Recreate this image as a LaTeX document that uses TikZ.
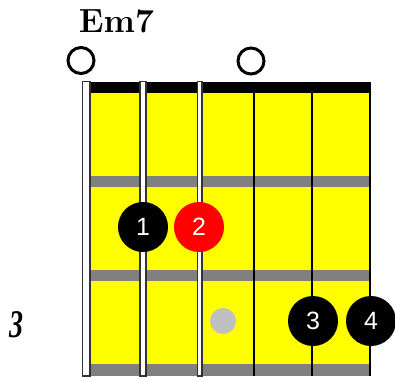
\documentclass[tikz,border=0pt]{standalone}
\usepackage{fontspec}
\newfontfamily\fingerfont{Liberation Sans}
\newfontfamily\fretfont{Liberation Serif}
\definecolor{fretyellow}{HTML}{FFFF00}
\definecolor{fretgray}{HTML}{808080}
\definecolor{stringedge}{HTML}{333333}
\definecolor{ghostgray}{HTML}{C0C0C0}
\tikzset{
  finger/.style={circle, fill=black, minimum size=50pt, inner sep=0pt, text=white,
    font=\fingerfont\fontsize{25}{25}\selectfont},
  openstring/.style={circle, draw=black, line width=3pt, minimum size=26pt, inner sep=0pt},
  ghost/.style={circle, fill=ghostgray, minimum size=26pt, inner sep=0pt},
  wound/.style={fill=white, draw=stringedge, line width=1.5pt},
  plainstring/.style={line width=2pt}
}
\begin{document}
\begin{tikzpicture}[x=1pt, y=-1pt]
  \useasboundingbox (0,0) rectangle (395,381);
  \node [anchor=base, font=\fontsize{33.5}{33.5}\selectfont\bfseries] (title) at (116.5,32) {Em7};
  \node [anchor=base, font=\fretfont\fontsize{28}{28}\selectfont\bfseries\itshape] (fretno) at (16.5,337) {\scalebox{1}[1.4]{3}};
  \node [openstring] (o1) at (81,60.5) {};
  \node [openstring] (o2) at (251,61) {};
  \fill [fretyellow] (90,93) rectangle (370,365);
  \fill [fretgray] (90,176) rectangle (370,187);
  \fill [fretgray] (90,270) rectangle (370,281);
  \fill [fretgray] (90,364) rectangle (370,376);
  \fill [black] (90,82) rectangle (371,93);
  \draw [wound] (82.5,81.5) rectangle (90,376);
  \draw [wound] (140,81.5) rectangle (146,376);
  \draw [wound] (197.5,81.5) rectangle (202,376);
  \draw [plainstring] (254,82) -- (254,376);
  \draw [plainstring] (312,82) -- (312,376);
  \draw [plainstring] (370,82) -- (370,376);
  \node [finger] (f1) at (143,227) {1};
  \node [finger, fill=red] (f2) at (199,227) {2};
  \node [ghost] (mark) at (223,321) {};
  \node [finger] (f3) at (313,321) {3};
  \node [finger] (f4) at (371,321) {4};
\end{tikzpicture}
\end{document}
